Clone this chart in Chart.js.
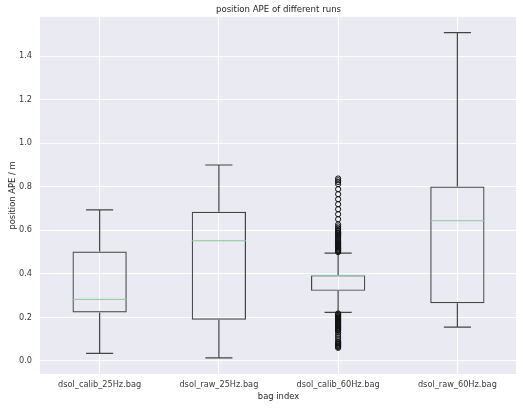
<!DOCTYPE html>
<html>
<head>
<meta charset="utf-8">
<script src="https://cdn.jsdelivr.net/npm/chart.js@4"></script>
<style>
  html, body { margin: 0; padding: 0; background: #fff; overflow: hidden; }
  #wrap { width: 516px; height: 409px; overflow: hidden; position: relative; }
  #chart { display: block; position: absolute; left: 0; top: 0; width: 522px; height: 409px; max-width: none; }
</style>
</head>
<body>
<div id="wrap"><canvas id="chart" width="522" height="409"></canvas></div>
<script>
const bags = ['dsol_calib_25Hz.bag', 'dsol_raw_25Hz.bag', 'dsol_calib_60Hz.bag', 'dsol_raw_60Hz.bag'];

// box statistics per bag (metres)
const whiskerLow = [0.035, 0.014, 0.223, 0.155];
const q1 = [0.223, 0.189, 0.322, 0.265];
const medians = [0.283, 0.552, 0.392, 0.644];
const q3 = [0.503, 0.685, 0.394, 0.801];
const whiskerHigh = [0.694, 0.900, 0.495, 1.508];

// fliers of dsol_calib_60Hz.bag
const upperOutliers = [0.500, 0.504, 0.508, 0.512, 0.516, 0.520, 0.524, 0.528, 0.532, 0.536,
  0.540, 0.545, 0.550, 0.555, 0.560, 0.565, 0.570, 0.575, 0.580, 0.585, 0.590, 0.596, 0.602,
  0.610, 0.618, 0.627, 0.651, 0.674, 0.697, 0.720, 0.743, 0.766, 0.789, 0.812, 0.822, 0.830, 0.838];
const lowerOutliers = [0.218, 0.214, 0.210, 0.206, 0.202, 0.198, 0.194, 0.190, 0.186, 0.182,
  0.178, 0.174, 0.170, 0.166, 0.162, 0.158, 0.154, 0.150, 0.146, 0.142, 0.138, 0.130, 0.120,
  0.110, 0.100, 0.090, 0.084, 0.080, 0.076, 0.072, 0.068, 0.064, 0.060];

const yTicks = [0.0, 0.2, 0.4, 0.6, 0.8, 1.0, 1.2, 1.4];

const BOX_WIDTH = 0.455;
const EDGE = '#444444';
const MEDIAN = '#8cc89c';
const FONT = 'DejaVu Sans';

const fliers = upperOutliers.concat(lowerOutliers).map(v => ({x: bags[2], y: v}));

// seaborn-like grey plot background
const plotBackground = {
  id: 'plotBackground',
  beforeDraw(chart) {
    const {ctx, chartArea: a} = chart;
    ctx.save();
    ctx.fillStyle = '#eaeaf2';
    ctx.fillRect(a.left, a.top, a.right - a.left, a.bottom - a.top);
    ctx.restore();
  }
};

// title is centred over the plot area, not over the whole canvas
const axesTitle = {
  id: 'axesTitle',
  afterDraw(chart) {
    const {ctx, chartArea: a} = chart;
    ctx.save();
    ctx.fillStyle = '#262626';
    ctx.font = '8.6px "DejaVu Sans"';
    ctx.textAlign = 'center';
    ctx.textBaseline = 'middle';
    ctx.fillText('position APE of different runs', (a.left + a.right) / 2, 10);
    ctx.restore();
  }
};

// whiskers + caps under the boxes, medians over them
const boxParts = {
  id: 'boxParts',
  beforeDatasetsDraw(chart) {
    const {ctx, scales: {x, y}} = chart;
    const half = x.width / bags.length * BOX_WIDTH / 4;
    ctx.save();
    ctx.strokeStyle = EDGE;
    ctx.lineWidth = 1.2;
    bags.forEach((b, i) => {
      const cx = x.getPixelForValue(i);
      [[q3[i], whiskerHigh[i]], [q1[i], whiskerLow[i]]].forEach(([from, to]) => {
        const y0 = y.getPixelForValue(from), y1 = y.getPixelForValue(to);
        ctx.beginPath();
        ctx.moveTo(cx, y0);
        ctx.lineTo(cx, y1);
        ctx.moveTo(cx - half, y1);
        ctx.lineTo(cx + half, y1);
        ctx.stroke();
      });
    });
    ctx.restore();
  },
  afterDatasetsDraw(chart) {
    const {ctx, scales: {x, y}} = chart;
    const half = x.width / bags.length * BOX_WIDTH / 2;
    ctx.save();
    ctx.strokeStyle = MEDIAN;
    ctx.lineWidth = 1;
    bags.forEach((b, i) => {
      const cx = x.getPixelForValue(i);
      const my = y.getPixelForValue(medians[i]);
      ctx.beginPath();
      ctx.moveTo(cx - half, my);
      ctx.lineTo(cx + half, my);
      ctx.stroke();
    });
    ctx.restore();
  }
};

new Chart(document.getElementById('chart'), {
  type: 'bar',
  data: {
    labels: bags,
    datasets: [
      {
        label: 'IQR',
        data: bags.map((b, i) => [q1[i], q3[i]]),
        backgroundColor: 'rgba(0,0,0,0)',
        borderColor: EDGE,
        borderWidth: 1.2,
        borderSkipped: false,
        barPercentage: BOX_WIDTH,
        categoryPercentage: 1
      },
      {
        type: 'line',
        label: 'fliers',
        data: fliers,
        showLine: false,
        pointStyle: 'circle',
        pointRadius: 2.6,
        pointBorderWidth: 1,
        pointBorderColor: '#111',
        pointBackgroundColor: 'rgba(0,0,0,0)'
      }
    ]
  },
  options: {
    responsive: false,
    animation: false,
    layout: {padding: {top: 17}},
    plugins: {
      legend: {display: false},
      tooltip: {enabled: false},
      title: {display: false}
    },
    scales: {
      x: {
        offset: true,
        border: {display: false},
        grid: {color: '#ffffff', lineWidth: 1, offset: false, drawTicks: false},
        ticks: {color: '#3a3a3a', font: {family: FONT, size: 8.2}, padding: 6, maxRotation: 0},
        title: {display: true, text: 'bag index', color: '#262626',
          font: {family: FONT, size: 8.4}, padding: {top: 0, bottom: 7}},
        afterFit(scale) {
          scale.height = 35;
          scale.paddingLeft = 0;
          scale.paddingRight = 0;
        }
      },
      y: {
        min: -0.06,
        max: 1.58,
        border: {display: false},
        grid: {color: '#ffffff', lineWidth: 1, drawTicks: false},
        ticks: {color: '#3a3a3a', font: {family: FONT, size: 8.2}, padding: 8,
          callback: v => v.toFixed(1)},
        afterBuildTicks(scale) { scale.ticks = yTicks.map(v => ({value: v})); },
        title: {display: true, text: 'position APE / m', color: '#262626',
          font: {family: FONT, size: 8.4}, padding: {top: 8, bottom: 0}},
        afterFit(scale) {
          scale.width = 40;
          scale.paddingTop = 0;
          scale.paddingBottom = 0;
        }
      }
    }
  },
  plugins: [plotBackground, boxParts, axesTitle]
});
</script>
</body>
</html>
